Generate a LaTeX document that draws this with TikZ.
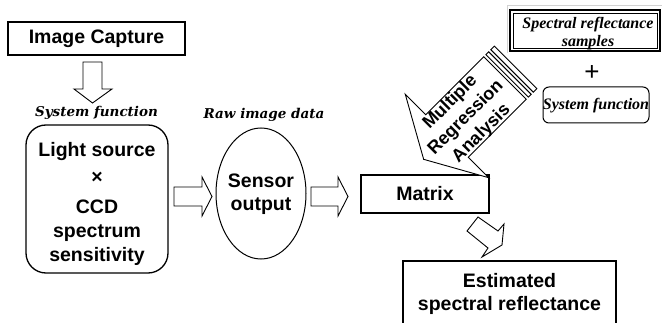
\documentclass[tikz,border=0pt]{standalone}
\usepackage{fontspec}
\setmainfont{Liberation Sans}
\newfontfamily\decofont{DejaVu Serif}
\newfontfamily\timesfont{Liberation Serif}
\usetikzlibrary{shapes.geometric}
\begin{document}
\begin{tikzpicture}[x=1pt,y=-1pt,line join=miter,
  box/.style={draw,line width=1.3pt,inner sep=0pt},
  bigtext/.style={font=\fontsize{19.5}{23}\selectfont\bfseries,align=center,inner sep=0pt},
  blockarrow/.style={draw,line width=0.9pt,fill=white},
  deco/.style={font=\decofont\fontsize{13.5}{15}\selectfont\bfseries\itshape,inner sep=0pt},
  tnr/.style={font=\timesfont\fontsize{16}{18}\selectfont\bfseries\itshape,align=center,inner sep=0pt}]
\useasboundingbox (0,0) rectangle (662,323);
\clip (0,0) rectangle (662,323);

% Image capture
\node[box,minimum width=177pt,minimum height=33pt] (cap) at (96.5,38.5) {};
\node[bigtext] (captext) at (cap.center) {Image Capture};
\draw[blockarrow] (83,62)--(102,62)--(102,89)--(112,89)--(92.5,103)--(74,89)--(83,89)--cycle;

% System function box
\node[deco] (sflabel) at (96.5,113) {System function};
\node[box,rounded corners=20pt,minimum width=142pt,minimum height=148pt] (sys) at (97,199) {};
\node[bigtext,font=\fontsize{19.5}{24}\selectfont\bfseries] (systext) at (97,204) {Light source\\[3pt]×\\[6pt]CCD\\spectrum\\sensitivity};

\draw[blockarrow] (174,187)--(202,187)--(202,177)--(212,196.5)--(202,216)--(202,206)--(174,206)--cycle;

% Sensor output
\node[deco] (rawlabel) at (264,115) {Raw image data};
\node[draw,ellipse,line width=1pt,minimum width=90pt,minimum height=131pt,inner sep=0pt] (sens) at (261,193.5) {};
\node[bigtext] (senstext) at (261,194.5) {Sensor\\output};

\draw[blockarrow] (311,187)--(338,187)--(338,177)--(348,196.5)--(338,216)--(338,206)--(311,206)--cycle;

% Matrix
\node[box,minimum width=128pt,minimum height=38pt] (mat) at (425,194) {};
\node[bigtext] (mattext) at (mat.center) {Matrix};

% Small arrow to estimate
\draw[blockarrow] (478,217)--(498,231)--(504,224)--(502,245)--(482,257)--(488,248)--(467,231)--cycle;

% Estimated
\node[box,minimum width=213pt,minimum height=80pt] (est) at (509.5,301) {};
\node[bigtext] (esttext) at (509.5,293.5) {Estimated\\spectral reflectance};

% Big striped arrow
\begin{scope}[shift={(447,136)},rotate=45]
  \draw[blockarrow] (-33,0)--(0,-59)--(0,-30)--(82,-30)--(82,30)--(0,30)--(0,59)--cycle;
  \draw[blockarrow] (85,-30) rectangle (89,30);
  \draw[blockarrow] (92,-30) rectangle (97,30);
\end{scope}
\node[font=\fontsize{18}{22}\selectfont\bfseries,align=center,inner sep=0pt,rotate=45] (mra) at (466,118) {Multiple\\Regression\\Analysis};

% Spectral reflectance samples
\draw[gray!35,line width=1pt] (507,53)--(507,6)--(662,6);
\draw[line width=1.3pt] (510,10) rectangle (660,51);
\draw[line width=0.8pt] (513,13) rectangle (657,48);
\node[tnr] (spectext) at (588,34) {Spectral reflectance\\samples};

\node[font=\fontsize{26}{28}\selectfont,inner sep=0pt] (plus) at (592,73) {+};

\node[draw,line width=1pt,rounded corners=6pt,minimum width=106pt,minimum height=36pt,inner sep=0pt] (sf2) at (596,105) {};
\node[tnr] (sf2text) at (596,106) {System function};
\end{tikzpicture}
\end{document}
